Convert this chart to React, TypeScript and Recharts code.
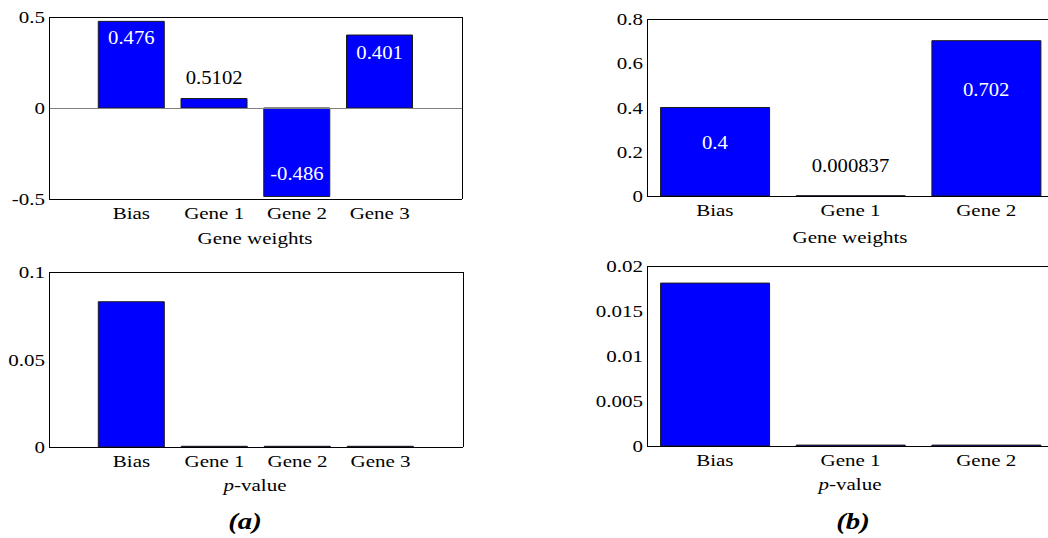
import React from "react";
import { BarChart, Bar, XAxis, YAxis, ReferenceLine, ReferenceDot } from "recharts";

// ---------- data ----------
const categoriesA = ["Bias", "Gene 1", "Gene 2", "Gene 3"];
const weightsA = [0.476, 0.052, -0.486, 0.401];
const weightTextA = ["0.476", "0.5102", "-0.486", "0.401"];
const weightTextAtA = [0.385, 0.165, -0.361, 0.304];
const pValuesA = [0.083, 0.0004, 0.0004, 0.0004];

const categoriesB = ["Bias", "Gene 1", "Gene 2"];
const weightsB = [0.4, 0.000837, 0.702];
const weightTextB = ["0.4", "0.000837", "0.702"];
const weightTextAtB = [0.24, 0.136, 0.479];
const pValuesB = [0.0181, 0.0001, 0.0001];

const weightTicksA = [-0.5, 0, 0.5];
const pTicksA = [0, 0.05, 0.1];
const weightTicksB = [0, 0.2, 0.4, 0.6, 0.8];
const pTicksB = [0, 0.005, 0.01, 0.015, 0.02];

// ---------- style ----------
const FONT = '"Liberation Serif", "Times New Roman", Times, serif';
const SX = 1.2;
const TICK_FS = 17.5;
const LABEL_FS = 18;
const LABEL_SX = 1.15;
const BLUE = "#0000ff";
const AXIS_LINE = { stroke: "#000", strokeWidth: 1, shapeRendering: "crispEdges" } as any;
const TICK_LINE = { stroke: "#000", strokeWidth: 1, shapeRendering: "crispEdges" } as any;

function XTick(props: any) {
  const { x, y, payload } = props;
  return (
    <g transform={`translate(${x},${y}) scale(${SX},1)`}>
      <text x={0} y={0} dy="0.71em" textAnchor="middle" fontFamily={FONT} fontSize={TICK_FS} fill="#000">
        {payload.value}
      </text>
    </g>
  );
}

function YTick(props: any) {
  const { x, y, payload } = props;
  return (
    <g transform={`translate(${x},${y}) scale(${SX},1)`}>
      <text x={0} y={0} dy="0.355em" textAnchor="end" fontFamily={FONT} fontSize={TICK_FS} fill="#000">
        {String(payload.value)}
      </text>
    </g>
  );
}

function BarText(props: any) {
  const { viewBox, text, white } = props;
  if (!viewBox) return null;
  const cx = viewBox.x + (viewBox.width || 0) / 2;
  const cy = viewBox.y + (viewBox.height || 0) / 2;
  return (
    <g transform={`translate(${cx},${cy}) scale(${LABEL_SX},1)`}>
      <text x={0} y={0} dy="0.35em" textAnchor="middle" fontFamily={FONT} fontSize={LABEL_FS} fill={white ? "#fff" : "#000"}>
        {text}
      </text>
    </g>
  );
}

type PanelProps = {
  left: number;
  top: number;
  width: number;
  height: number;
  yWidth: number;
  margin: { top: number; right: number; bottom: number; left: number };
  names: string[];
  values: number[];
  yDomain: [number, number];
  yTicks: number[];
  padX: number;
  texts?: string[];
  textAt?: number[];
  zeroLine?: boolean;
};

function Panel(p: PanelProps) {
  const data = p.names.map((name, i) => ({ name, value: p.values[i] }));
  return (
    <div style={{ position: "absolute", left: p.left, top: p.top, width: p.width, height: p.height }}>
      <BarChart width={p.width} height={p.height} data={data} margin={p.margin} barCategoryGap="10%">
        <XAxis
          dataKey="name"
          height={30}
          interval={0}
          tick={<XTick />}
          tickLine={false}
          tickSize={0}
          tickMargin={8}
          axisLine={AXIS_LINE}
          padding={{ left: p.padX, right: p.padX }}
        />
        <XAxis
          xAxisId="bot"
          dataKey="name"
          orientation="bottom"
          mirror
          height={1}
          interval={0}
          tick={false}
          tickSize={3}
          tickLine={TICK_LINE}
          axisLine={false}
          padding={{ left: p.padX, right: p.padX }}
        />
        <XAxis
          xAxisId="top"
          dataKey="name"
          orientation="top"
          mirror
          height={1}
          interval={0}
          tick={false}
          tickSize={3}
          tickLine={TICK_LINE}
          axisLine={AXIS_LINE}
          padding={{ left: p.padX, right: p.padX }}
        />
        <YAxis
          type="number"
          width={p.yWidth}
          domain={p.yDomain}
          ticks={p.yTicks}
          allowDataOverflow
          tick={<YTick />}
          tickLine={false}
          tickSize={0}
          tickMargin={4}
          axisLine={AXIS_LINE}
        />
        <YAxis
          yAxisId="l"
          type="number"
          orientation="left"
          mirror
          width={1}
          domain={p.yDomain}
          ticks={p.yTicks}
          allowDataOverflow
          tick={false}
          tickSize={3}
          tickLine={TICK_LINE}
          axisLine={false}
        />
        <YAxis
          yAxisId="r"
          type="number"
          orientation="right"
          mirror
          width={1}
          domain={p.yDomain}
          ticks={p.yTicks}
          allowDataOverflow
          tick={false}
          tickSize={3}
          tickLine={TICK_LINE}
          axisLine={AXIS_LINE}
        />
        {p.zeroLine && (
          <ReferenceLine y={0} stroke="#808080" strokeWidth={1} ifOverflow="visible" shapeRendering="crispEdges" />
        )}
        <Bar dataKey="value" fill={BLUE} stroke="#1a1a1a" strokeWidth={1} isAnimationActive={false} />
        {p.texts &&
          p.textAt &&
          p.texts.map((t, i) => (
            <ReferenceDot
              key={i}
              x={p.names[i]}
              y={p.textAt![i]}
              r={0}
              fill="none"
              stroke="none"
              ifOverflow="visible"
              label={<BarText text={t} white={Math.abs(p.textAt![i]) < Math.abs(p.values[i])} />}
            />
          ))}
      </BarChart>
    </div>
  );
}

function Title(props: { x: number; y: number; size?: number; bold?: boolean; sx?: number; children: React.ReactNode }) {
  return (
    <div
      style={{
        position: "absolute",
        left: props.x,
        top: props.y,
        transform: `translate(-50%, -50%) scale(${props.sx ?? SX}, 1)`,
        fontFamily: FONT,
        fontSize: props.size ?? TICK_FS,
        fontWeight: props.bold ? "bold" : "normal",
        fontStyle: props.bold ? "italic" : "normal",
        whiteSpace: "nowrap",
        lineHeight: 1,
        color: "#000",
      }}
    >
      {props.children}
    </div>
  );
}

export default function App() {
  return (
    <div
      style={{
        position: "absolute",
        left: 0,
        top: 0,
        width: 1048,
        height: 538,
        overflow: "hidden",
        background: "#fff",
        fontFamily: FONT,
      }}
    >
      {/* (a) gene weights */}
      <Panel
        left={0}
        top={0}
        width={480}
        height={260}
        yWidth={49}
        margin={{ top: 17, right: 18, bottom: 31, left: 0 }}
        names={categoriesA}
        values={weightsA}
        yDomain={[-0.5, 0.5]}
        yTicks={weightTicksA}
        padX={41}
        texts={weightTextA}
        textAt={weightTextAtA}
        zeroLine
      />
      {/* (a) p-value */}
      <Panel
        left={0}
        top={250}
        width={480}
        height={230}
        yWidth={49}
        margin={{ top: 22, right: 17, bottom: 3, left: 0 }}
        names={categoriesA}
        values={pValuesA}
        yDomain={[0, 0.1]}
        yTicks={pTicksA}
        padX={41}
      />
      {/* (b) gene weights */}
      <Panel
        left={560}
        top={0}
        width={518}
        height={260}
        yWidth={87}
        margin={{ top: 19, right: 24, bottom: 34, left: 0 }}
        names={categoriesB}
        values={weightsB}
        yDomain={[0, 0.8]}
        yTicks={weightTicksB}
        padX={0}
        texts={weightTextB}
        textAt={weightTextAtB}
      />
      {/* (b) p-value */}
      <Panel
        left={560}
        top={250}
        width={518}
        height={230}
        yWidth={87}
        margin={{ top: 16, right: 24, bottom: 4, left: 0 }}
        names={categoriesB}
        values={pValuesB}
        yDomain={[0, 0.02]}
        yTicks={pTicksB}
        padX={0}
      />

      <Title x={255} y={239}>Gene weights</Title>
      <Title x={255} y={486}>
        <i>p</i>-value
      </Title>
      <Title x={850} y={238}>Gene weights</Title>
      <Title x={850} y={485}>
        <i>p</i>-value
      </Title>
      <Title x={245} y={521} size={24} bold sx={1.2}>(a)</Title>
      <Title x={853} y={521} size={24} bold sx={1.2}>(b)</Title>
    </div>
  );
}
